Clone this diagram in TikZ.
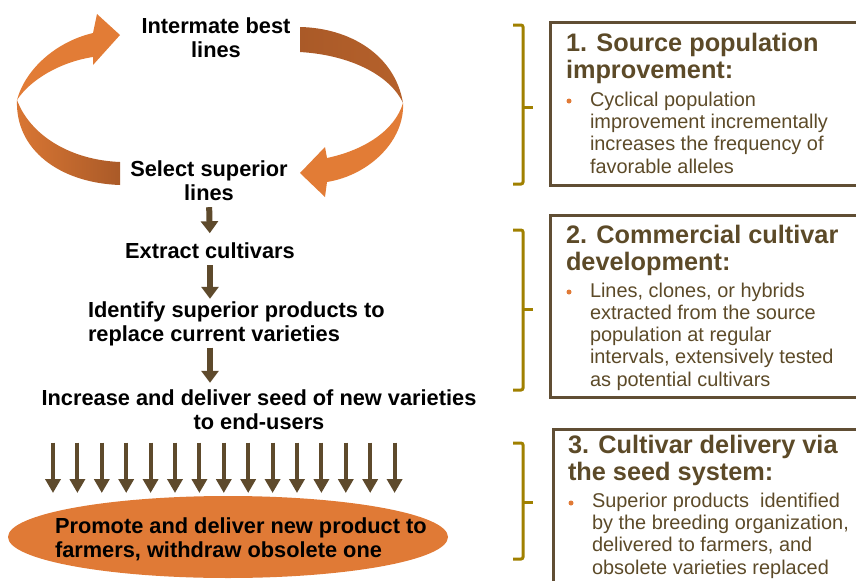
\documentclass[tikz,border=0pt]{standalone}
\usepackage{fontspec}
\setmainfont{Liberation Sans}
\usetikzlibrary{arrows.meta,shapes.geometric}
\newlength\upx
\setlength\upx{0.03cm}
\definecolor{ribbonhi}{RGB}{226,124,54}
\definecolor{ribbonlo}{RGB}{170,90,40}
\definecolor{stemclr}{RGB}{94,74,44}
\definecolor{boxclr}{RGB}{96,78,52}
\definecolor{txtclr}{RGB}{92,74,40}
\definecolor{braceclr}{RGB}{160,128,0}
\definecolor{ovalclr}{RGB}{224,122,54}
\tikzset{
    every node/.style={inner sep=0pt, outer sep=0pt}
}
\tikzset{
    steptext/.style={font=\fontsize{18.6}{20}\selectfont\bfseries, align=center},
    titletext/.style={font=\fontsize{21.6}{22.2}\selectfont\bfseries,
    	text=txtclr, align=left, anchor=base west},
    bodytext/.style={font=\fontsize{17}{18.8}\selectfont,
    	text=txtclr, align=left, anchor=base west},
    bulletdot/.style={circle, fill=ovalclr, minimum size=5\upx},
    infobox/.style={draw=boxclr, line width=3\upx},
    brace/.style={draw=braceclr, line width=3\upx, rounded corners=2\upx},
    oval/.style={ellipse, fill=ovalclr, minimum width=440\upx, minimum height=82\upx},
    stem/.style={draw=stemclr, line width=6\upx,
    	-{Triangle[width=0.51cm, length=0.36cm]}},
    fan/.style={draw=stemclr, line width=4\upx,
    	-{Triangle[width=0.45cm, length=0.42cm]}}
}

\begin{document}
\begin{tikzpicture}[x=0.03cm, y=-0.03cm]
  \useasboundingbox (0,0) rectangle (856,581);

  % cycle of the source population
  \fill[ribbonhi] (17,100) .. controls (25,70) and (55,42) .. (93,33)
    -- (97,14) -- (120,35) -- (93,65) -- (93,57)
    .. controls (60,62) and (30,80) .. (17,100) -- cycle;
  \path[left color=ribbonhi!85!ribbonlo, right color=ribbonlo]
    (17,100) .. controls (15,150) and (60,183) .. (120,185)
    -- (120,162) .. controls (70,160) and (30,135) .. (17,100) -- cycle;
  \path[left color=ribbonlo, right color=ribbonlo!80!ribbonhi]
    (300,27) .. controls (350,28) and (395,55) .. (403,103)
    .. controls (390,75) and (350,55) .. (300,52) -- cycle;
  \fill[ribbonhi] (403,103) .. controls (405,140) and (370,175) .. (327,182)
    -- (325,197) -- (300,173) -- (325,147) -- (327,158)
    .. controls (365,150) and (395,130) .. (403,103) -- cycle;

  % base anchors sit on the last line
  \node (inter) [steptext, anchor=base] at (216,57) {Intermate best\\lines};
  \node (sel) [steptext, anchor=base] at (209,200) {Select superior\\lines};
  \node (ext) [steptext, anchor=base] at (210,258) {Extract cultivars};
  \node (idf) [steptext, align=left, anchor=base west] at (88,341)
    {Identify superior products to\\replace current varieties};
  \node (inc) [steptext, anchor=base] at (259,429)
    {Increase and deliver seed of new varieties\\to end-users};

  \node (prom) [oval] at (228,537) {};
  \node (promtxt) [steptext, align=left, anchor=base west] at (55,557)
    {Promote and deliver new product to\\farmers, withdraw obsolete one};

  \draw[stem, shorten <=0.21cm, shorten >=0.27cm] (sel.south) -- (ext.north);
  \draw[stem, shorten <=0.21cm, shorten >=0.09cm] (ext.south) -- (idf.north -| ext.south);
  \draw[stem, shorten <=0.06cm, shorten >=0.21cm] (idf.south -| ext.south) -- (inc.north -| ext.south);
  \foreach \k in {0,...,14} {
    \coordinate (fx) at (53+24.4*\k,0);
    \draw[fan, shorten <=0.4cm, shorten >=0.09cm] (inc.south -| fx) -- (prom.north -| fx);
  }

  % brackets and boxes on the right
  \draw[brace] (513,25) -- (523,25) -- (523,184) -- (513,184);
  \draw[brace] (523,107) -- (533,107);
  \draw[brace] (513,230) -- (523,230) -- (523,390) -- (513,390);
  \draw[brace] (523,309) -- (533,309);
  \draw[brace] (513,443) -- (523,443) -- (523,559) -- (513,559);
  \draw[brace] (523,502) -- (533,502);

  \draw[infobox] (550,22) rectangle (880,185);
  \draw[infobox] (550,215) rectangle (880,397);
  \draw[infobox] (553,429) rectangle (880,600);

  \node (t1) [titletext] at (566,78) {1. Source population\\improvement:};
  \node (b1) [bulletdot] at (569,101) {};
  \node (d1) [bodytext] at (590,173)
    {Cyclical population\\improvement incrementally\\increases the frequency of\\favorable alleles};

  \node (t2) [titletext] at (566,270) {2. Commercial cultivar\\development:};
  \node (b2) [bulletdot] at (569,292) {};
  \node (d2) [bodytext] at (590,386)
    {Lines, clones, or hybrids\\extracted from the source\\population at regular\\intervals, extensively tested\\as potential cultivars};

  \node (t3) [titletext] at (568,480) {3. Cultivar delivery via\\the seed system:};
  \node (b3) [bulletdot] at (571,503) {};
  \node (d3) [bodytext] at (592,574)
    {Superior products\ \ identified\\by the breeding organization,\\delivered to farmers, and\\obsolete varieties replaced};
\end{tikzpicture}
\end{document}
